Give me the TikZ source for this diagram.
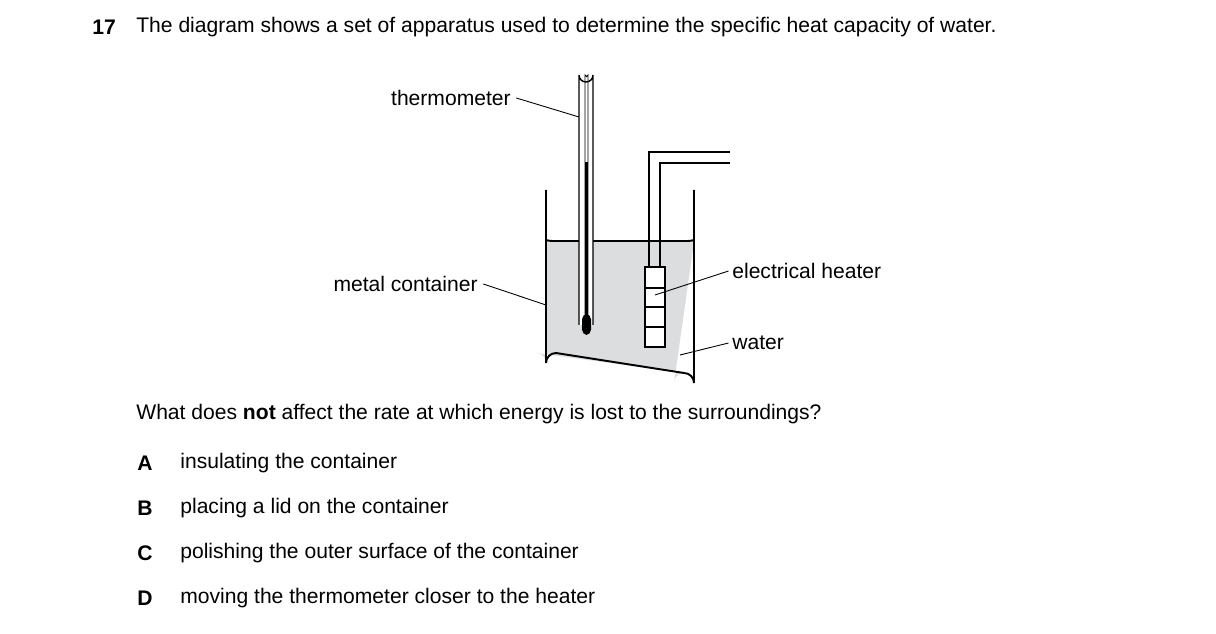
\documentclass[tikz,border=0pt]{standalone}
\usepackage{fontspec}
\setmainfont{Liberation Sans}
\usetikzlibrary{positioning}
\definecolor{watercolor}{RGB}{220,221,222}

\begin{document}
\begin{tikzpicture}[x=0.02cm, y=-0.02cm,
    txt/.style={inner sep=0pt, font=\fontsize{12}{14}\selectfont},
    lead/.style={draw, line width=0.5pt},
    part/.style={draw, line width=1.1pt},
]
    \useasboundingbox (0,0) rectangle (1216,634);

    % Question
    \node[txt, anchor=west] (num) at (92,27) {\textbf{17}};
    \node[txt, anchor=west] (qtext) at (136,27) {The diagram shows a set of apparatus used to determine the specific heat capacity of water.};

    % Water and container
    \fill[watercolor] (546,242) -- (546,363) arc (180:90:-10) -- (684,373) arc (90:0:-10) -- (694,242) -- cycle;
    \draw[part] (546,242) .. controls (546,239) and (548,241) .. (552,241) -- (688,241) .. controls (692,241) and (694,239) .. (694,242);
    \draw[part] (546,190) -- (546,363) arc (180:270:10) -- (684,373) arc (270:360:10) -- (694,190);

    % Thermometer
    \fill[white] (579,325) -- (579,75) arc (180:0:7) -- (593,325) -- cycle;
    \draw[line width=0.8pt] (579,325) -- (579,75) arc (180:0:7) -- (593,325);
    \draw[line width=0.5pt] (585,322) -- (585,75) arc (180:0:1.5) -- (588,322);
    \draw[line width=2pt] (586.5,162) -- (586.5,320);
    \fill[black, rounded corners=3pt] (582,314) rectangle (591,335);

    % Heater
    \draw[part] (649,267) -- (649,152) -- (730,152);
    \draw[part] (660,267) -- (660,163) -- (730,163);
    \draw[part, fill=white] (645,267) rectangle (665,347);
    \foreach \y in {288,307,327} {
        \draw[line width=0.6pt] (645,\y) -- (665,\y);
    }

    % Labels
    \node[txt, anchor=east] (lthermo) at (511,98) {thermometer};
    \node[txt, anchor=east] (lmetal) at (478,284) {metal container};
    \node[txt, anchor=west] (lheater) at (732,271) {electrical heater};
    \node[txt, anchor=west] (lwater) at (732,343) {water};
    \coordinate (pthermo) at (579,117);
    \coordinate (pmetal) at (546,305);
    \coordinate (pheater) at (655,295);
    \coordinate (pwater) at (680,355);
    \draw[lead] ([xshift=3pt]lthermo.east) -- (pthermo);
    \draw[lead] ([xshift=3pt]lmetal.east) -- (pmetal);
    \draw[lead] ([xshift=-2pt]lheater.west) -- (pheater);
    \draw[lead] ([xshift=-2pt]lwater.west) -- (pwater);

    % Answers
    \node[txt, anchor=west] (ask) at (136,414) {What does \textbf{not} affect the rate at which energy is lost to the surroundings?};
    \foreach \l/\t/\y in {A/insulating the container/463, B/placing a lid on the container/508, C/polishing the outer surface of the container/553, D/moving the thermometer closer to the heater/598} {
        \node[txt, anchor=west] (key\l) at (137,\y) {\textbf{\l}};
        \node[txt, anchor=west] (ans\l) at (180,\y) {\t};
    }
\end{tikzpicture}
\end{document}
